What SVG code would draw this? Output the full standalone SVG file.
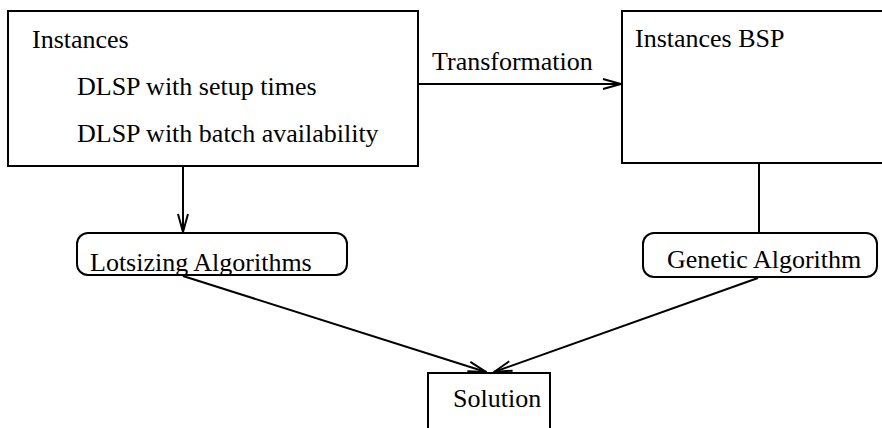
<svg xmlns="http://www.w3.org/2000/svg" width="882" height="428" viewBox="0 0 882 428">
  <style>
    .box { fill: #fff; stroke: #000; stroke-width: 2; }
    .edge { fill: none; stroke: #000; stroke-width: 2; }
    .lbl { font-family: "Liberation Serif", "Times New Roman", serif; font-size: 26px; fill: #000; }
  </style>
  <defs>
    <marker id="arrow" viewBox="0 0 20 12" refX="19" refY="6" markerWidth="20" markerHeight="12" markerUnits="userSpaceOnUse" orient="auto">
      <path d="M1,1 L19,6 L1,11" fill="none" stroke="#000" stroke-width="2"/>
    </marker>
  </defs>
  <rect width="882" height="428" fill="#fff"/>

  <g id="connectors">
    <line class="edge" x1="418" y1="84" x2="621" y2="84" marker-end="url(#arrow)"/>
    <line class="edge" x1="183" y1="166" x2="183" y2="232" marker-end="url(#arrow)"/>
    <line class="edge" x1="759" y1="163" x2="759" y2="233"/>
    <line class="edge" x1="183" y1="276" x2="486" y2="372" marker-end="url(#arrow)"/>
    <line class="edge" x1="758" y1="278" x2="494" y2="372" marker-end="url(#arrow)"/>
  </g>

  <g id="instances">
    <rect class="box" x="8" y="11" width="410" height="155"/>
    <text class="lbl" x="32" y="48">Instances</text>
    <text class="lbl" x="77" y="95">DLSP with setup times</text>
    <text class="lbl" x="77" y="142">DLSP with batch availability</text>
  </g>

  <g id="transformation-label">
    <text class="lbl" x="432" y="70">Transformation</text>
  </g>

  <g id="instances-bsp">
    <rect class="box" x="622" y="11" width="280" height="152"/>
    <text class="lbl" x="635" y="47">Instances BSP</text>
  </g>

  <g id="lotsizing">
    <rect class="box" x="77" y="233" width="270" height="42" rx="11" ry="11"/>
    <text class="lbl" x="90" y="271">Lotsizing Algorithms</text>
  </g>

  <g id="genetic">
    <rect class="box" x="643" y="233" width="234" height="44" rx="11" ry="11"/>
    <text class="lbl" x="667" y="268">Genetic Algorithm</text>
  </g>

  <g id="solution">
    <rect class="box" x="428" y="373" width="122" height="70"/>
    <text class="lbl" x="453" y="407">Solution</text>
  </g>
</svg>
